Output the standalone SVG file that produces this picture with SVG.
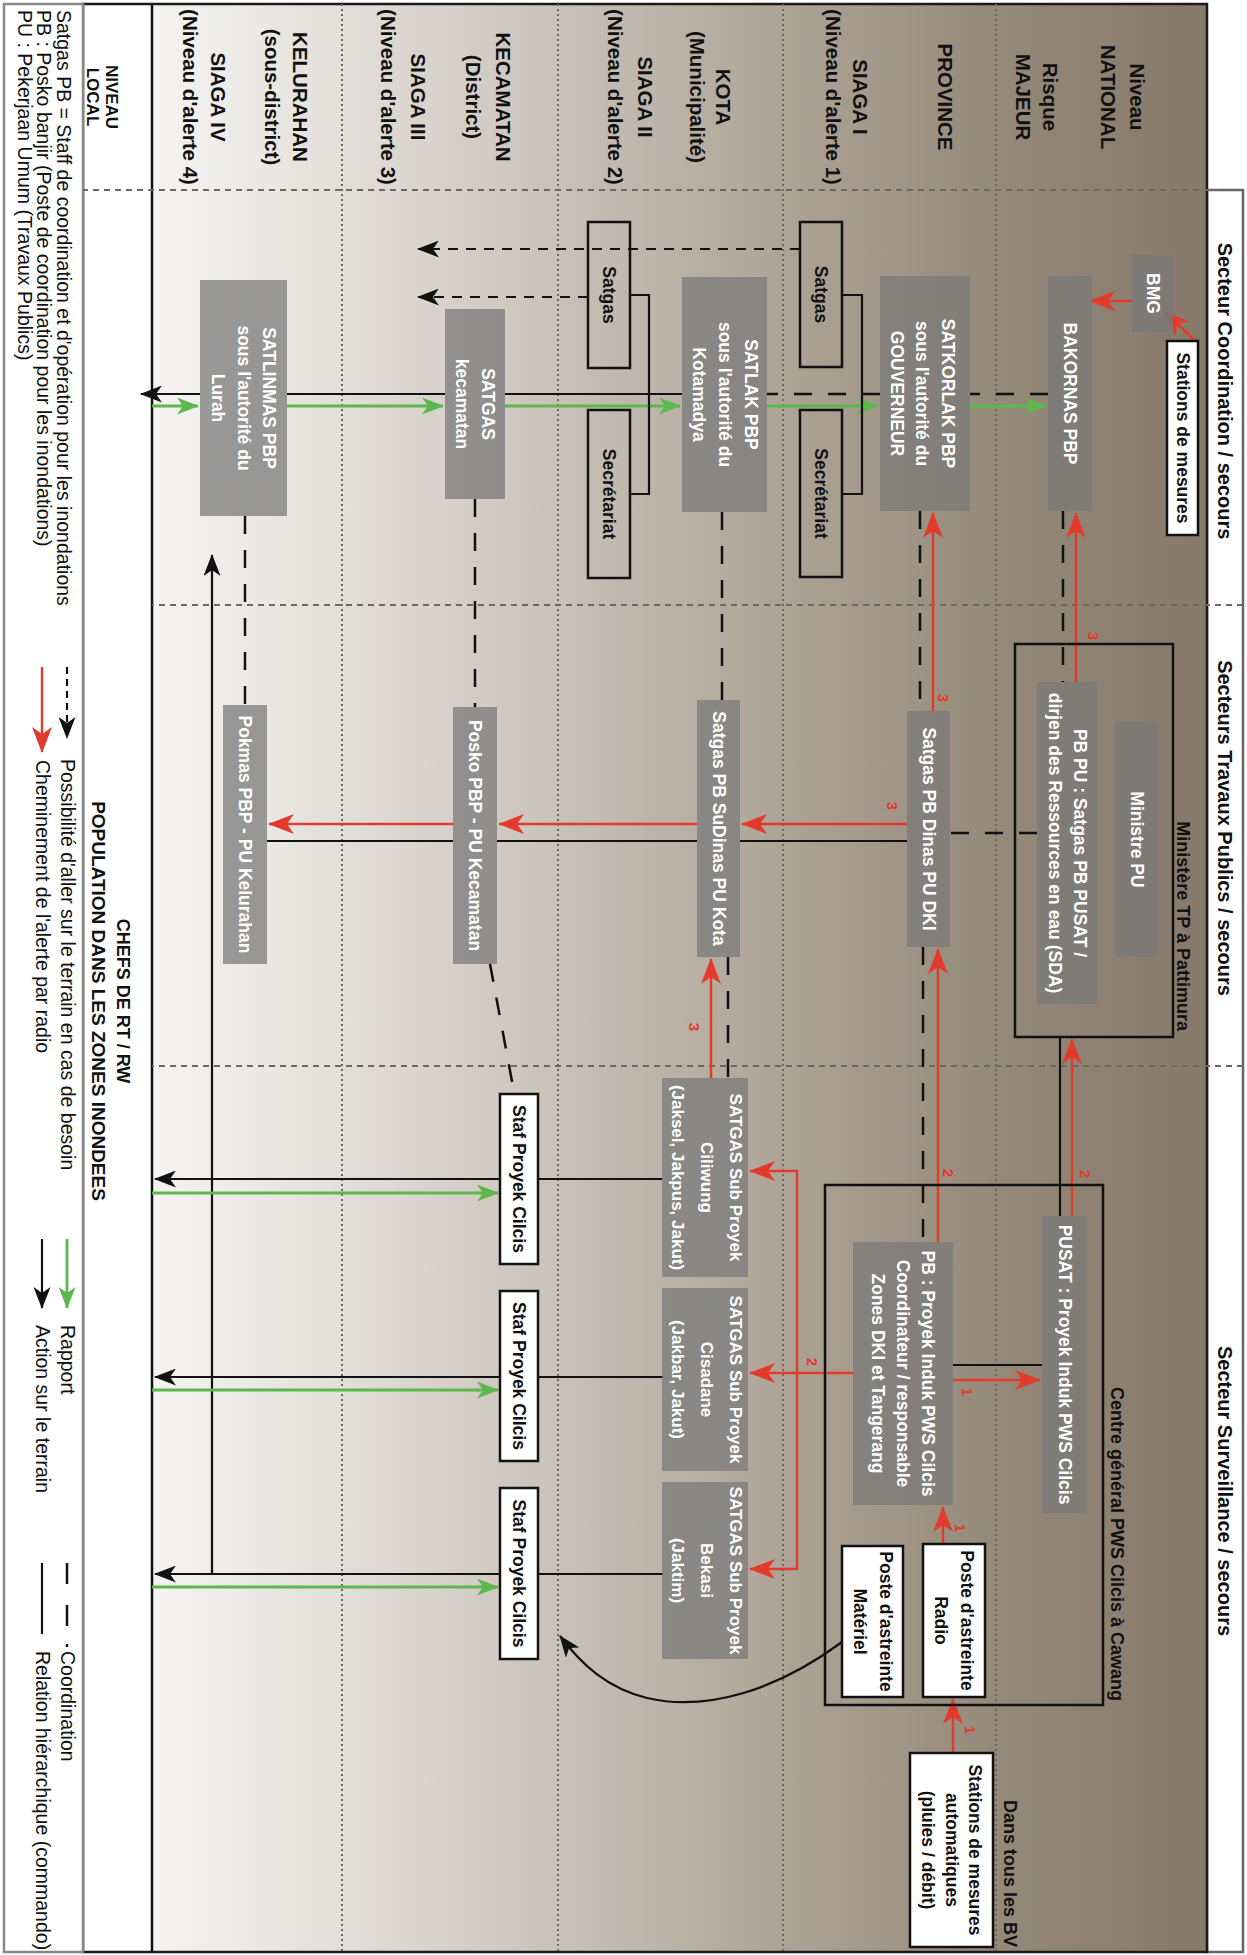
<svg xmlns="http://www.w3.org/2000/svg" width="1247" height="1955" viewBox="0 0 1247 1955">
<defs>
<linearGradient id="bg" gradientUnits="userSpaceOnUse" x1="0" y1="40" x2="0" y2="1095">
<stop offset="0" stop-color="#87796a"/>
<stop offset="0.2" stop-color="#958979"/>
<stop offset="0.436" stop-color="#b2a89b"/>
<stop offset="0.673" stop-color="#d0cac2"/>
<stop offset="0.863" stop-color="#e7e4e0"/>
<stop offset="1" stop-color="#f5f4f2"/>
</linearGradient>
<marker id="mr" markerUnits="userSpaceOnUse" markerWidth="26" markerHeight="20" refX="25" refY="10" orient="auto"><path d="M0,0 L26,10 L0,20 L7,10 z" fill="#e23b2e"/></marker>
<marker id="mg" markerUnits="userSpaceOnUse" markerWidth="22" markerHeight="17" refX="21" refY="8.5" orient="auto"><path d="M0,0 L22,8.5 L0,17 L6,8.5 z" fill="#5cb84c"/></marker>
<marker id="mk" markerUnits="userSpaceOnUse" markerWidth="22" markerHeight="17" refX="21" refY="8.5" orient="auto"><path d="M0,0 L22,8.5 L0,17 L6,8.5 z" fill="#111"/></marker>
</defs>
<style>
text{font-family:"Liberation Sans",Arial,sans-serif}
.hd{font-size:20px;font-weight:bold;text-anchor:middle;fill:#111}
.lv{font-size:20.5px;font-weight:bold;text-anchor:middle;fill:#111}
.gb{fill:#7a7a7a;fill-opacity:.74}
.gt{fill:#fff;font-size:17.5px;font-weight:bold;text-anchor:middle}
.gs{fill:#fff;font-size:17px;font-weight:bold;text-anchor:middle}
.wb{fill:#fff;stroke:#111;stroke-width:2.5}
.ob{fill:none;stroke:#111;stroke-width:2.5}
.bt{fill:#111;font-size:17.5px;font-weight:bold;text-anchor:middle}
.lab{fill:#111;font-size:18px;font-weight:bold;text-anchor:end}
.num{fill:#e23b2e;font-size:15px;font-weight:bold;text-anchor:middle}
.lg{fill:#111;font-size:19.5px}
.red{fill:none;stroke:#e23b2e;stroke-width:2.4;marker-end:url(#mr)}
.grn{fill:none;stroke:#5cb84c;stroke-width:2.8;marker-end:url(#mg)}
.blk{fill:none;stroke:#111;stroke-width:2.2}
.bka{fill:none;stroke:#111;stroke-width:2.2;marker-end:url(#mk)}
.dsh{fill:none;stroke:#111;stroke-width:2.5;stroke-dasharray:18 16}
.dar{fill:none;stroke:#111;stroke-width:2.2;stroke-dasharray:10 8;marker-end:url(#mk)}
.col{stroke:#6f6860;stroke-width:1.8;stroke-dasharray:6 5}
.row{stroke:#6f6860;stroke-width:2;stroke-dasharray:2 3}
</style>
<rect x="0" y="0" width="1247" height="1955" fill="#fff"/>
<g transform="translate(1247,0) rotate(90)">
<g id="frame">
<rect x="190" y="4" width="1762" height="36" fill="#fff" stroke="#666" stroke-width="2.5"/>
<rect x="4" y="40" width="1948" height="1055" fill="url(#bg)"/>
<rect x="4" y="1095" width="1948" height="69" fill="#fff"/>
<rect x="4" y="40" width="1948" height="1124" fill="none" stroke="#1a1a1a" stroke-width="2.5"/>
<rect x="4" y="1164" width="1948" height="79" fill="#fff" stroke="#888" stroke-width="2.5"/>
<line x1="4" y1="1095" x2="1952" y2="1095" stroke="#111" stroke-width="2.5"/>
<line class="col" x1="190" y1="4" x2="190" y2="1164"/>
<line class="col" x1="605" y1="4" x2="605" y2="1095"/>
<line class="col" x1="1066" y1="4" x2="1066" y2="1095"/>
<line class="row" x1="4" y1="251" x2="1952" y2="251"/>
<line class="row" x1="4" y1="464" x2="1952" y2="464"/>
<line class="row" x1="4" y1="689" x2="1952" y2="689"/>
<line class="row" x1="4" y1="905" x2="1952" y2="905"/>
</g>
<g id="headers">
<text class="hd" x="391" y="29">Secteur Coordination / secours</text>
<text class="hd" x="828" y="29">Secteurs Travaux Publics / secours</text>
<text class="hd" x="1491" y="29">Secteur Surveillance / secours</text>
</g>
<g id="levels">
<text class="lv" x="97" y="117">Niveau</text>
<text class="lv" x="97" y="146">NATIONAL</text>
<text class="lv" x="97" y="204">Risque</text>
<text class="lv" x="97" y="231">MAJEUR</text>
<text class="lv" x="97" y="309">PROVINCE</text>
<text class="lv" x="97" y="394">SIAGA I</text>
<text class="lv" x="97" y="421">(Niveau d'alerte 1)</text>
<text class="lv" x="97" y="531">KOTA</text>
<text class="lv" x="97" y="557">(Municipalité)</text>
<text class="lv" x="97" y="609">SIAGA II</text>
<text class="lv" x="97" y="639">(Niveau d'alerte 2)</text>
<text class="lv" x="97" y="751">KECAMATAN</text>
<text class="lv" x="97" y="781">(District)</text>
<text class="lv" x="97" y="836">SIAGA III</text>
<text class="lv" x="97" y="866">(Niveau d'alerte 3)</text>
<text class="lv" x="97" y="954">KELURAHAN</text>
<text class="lv" x="97" y="982">(sous-district)</text>
<text class="lv" x="97" y="1036">SIAGA IV</text>
<text class="lv" x="97" y="1064">(Niveau d'alerte 4)</text>
<text class="lv" x="97" y="1141" style="font-size:17px">NIVEAU</text>
<text class="lv" x="97" y="1160" style="font-size:17px">LOCAL</text>
</g>
<g id="local">
<text class="lv" x="1001" y="1130" style="font-size:18px">CHEFS DE RT / RW</text>
<text class="lv" x="1001" y="1155" style="font-size:19px">POPULATION DANS LES ZONES INONDEES</text>
</g>

<g id="connectors">
<path class="dsh" d="M394,199 V277"/>
<path class="dsh" d="M394,367 V480"/>
<path class="blk" d="M394,565 V742"/>
<path class="blk" d="M394,802 V960"/>
<path class="bka" d="M394,1047 V1106"/>
<path class="grn" d="M406,1095 V1049"/>
<path class="grn" d="M406,960 V804"/>
<path class="grn" d="M406,742 V567"/>
<path class="grn" d="M406,480 V369"/>
<path class="grn" d="M406,277 V201"/>
<path class="blk" d="M295,405 V385 H494 V405"/>
<path class="blk" d="M295,617 V598 H494 V617"/>
<path class="dar" d="M249,447 V829"/>
<path class="dar" d="M297,659 V829"/>
<path class="red" d="M301,115 V157"/>
<path class="red" d="M342,50 L312,83"/>
<path class="red" d="M682,171 H513"/>
<path class="dsh" d="M511,184 H682"/>
<path class="red" d="M711,314 H513"/>
<path class="dsh" d="M511,327 H711"/>
<path class="dsh" d="M833,210 V297"/>
<path class="blk" d="M841,340 V507"/>
<path class="blk" d="M841,550 V750"/>
<path class="blk" d="M841,794 V980"/>
<path class="red" d="M824,340 V505"/>
<path class="red" d="M824,550 V748"/>
<path class="red" d="M824,794 V978"/>
<path class="dsh" d="M512,525 H700"/>
<path class="dsh" d="M499,772 H707"/>
<path class="dsh" d="M516,1002 H705"/>
<path class="dsh" d="M957,519 H1078"/>
<path class="red" d="M1078,536 H959"/>
<path class="dsh" d="M964,757 L1092,733"/>
<path class="dsh" d="M947,324 H1242"/>
<path class="red" d="M1242,309 H949"/>
<path class="blk" d="M1216,187 H1037"/>
<path class="red" d="M1216,175 H1039"/>
<path class="blk" d="M1365,294 V205"/>
<path class="red" d="M1380,294 V207"/>
<path class="red" d="M1544,304 H1507"/>
<path class="red" d="M1753,294 H1699"/>
<path class="red" d="M1373,394 V497"/>
<path class="red" d="M1373,450 H1171 V497"/>
<path class="red" d="M1373,450 H1569 V497"/>
<path class="bka" d="M1179,585 V1092"/>
<path class="bka" d="M1377,584 V1092"/>
<path class="bka" d="M1574,584 V1092"/>
<path class="bka" d="M1574,1035 H555"/>
<path class="grn" d="M1193,1095 V749"/>
<path class="grn" d="M1390,1095 V749"/>
<path class="grn" d="M1587,1095 V749"/>
<path class="bka" d="M1642,405 C1690,470 1712,540 1698,600 C1688,640 1665,665 1636,687"/>
<text class="num" x="636" y="159">3</text>
<text class="num" x="698" y="309">3</text>
<text class="num" x="806" y="360">3</text>
<text class="num" x="1027" y="558">3</text>
<text class="num" x="1173" y="304">2</text>
<text class="num" x="1174" y="167">2</text>
<text class="num" x="1362" y="440">2</text>
<text class="num" x="1392" y="285">1</text>
<text class="num" x="1528" y="292">1</text>
<text class="num" x="1730" y="282">1</text>
</g>

<g id="bmg"><rect class="gb" x="255" y="74" width="77" height="41"/><text class="gt" x="293.5" y="100.5">BMG</text></g>
<g id="bakornas"><rect class="gb" x="276" y="155" width="235" height="44"/><text class="gt" x="393.5" y="183">BAKORNAS PBP</text></g>
<g id="stations-mesures"><rect class="wb" x="341" y="49" width="194" height="31"/><text class="bt" x="438" y="70.5">Stations de mesures</text></g>
<g id="satkorlak"><rect class="gb" x="276" y="277" width="235" height="90"/><text class="gt" x="393.5" y="305">SATKORLAK PBP</text><text class="gt" x="393.5" y="331">sous l'autorité du</text><text class="gt" x="393.5" y="356">GOUVERNEUR</text></g>
<g id="satgas-prov"><rect class="ob" x="222" y="405" width="145" height="42"/><text class="bt" x="294.5" y="432">Satgas</text></g>
<g id="secretariat-prov"><rect class="ob" x="410" y="405" width="167" height="42"/><text class="bt" x="493.5" y="432">Secrétariat</text></g>
<g id="satlak"><rect class="gb" x="277" y="480" width="235" height="85"/><text class="gt" x="394.5" y="502.5">SATLAK PBP</text><text class="gt" x="394.5" y="528.5">sous l'autorité du</text><text class="gt" x="394.5" y="554.5">Kotamadya</text></g>
<g id="satgas-kota"><rect class="ob" x="222" y="617" width="146" height="42"/><text class="bt" x="295" y="644">Satgas</text></g>
<g id="secretariat-kota"><rect class="ob" x="410" y="617" width="168" height="42"/><text class="bt" x="494" y="644">Secrétariat</text></g>
<g id="satgas-kec"><rect class="gb" x="309" y="742" width="190" height="60"/><text class="gt" x="404" y="765">SATGAS</text><text class="gt" x="404" y="791">kecamatan</text></g>
<g id="satlinmas"><rect class="gb" x="280" y="960" width="236" height="87"/><text class="gt" x="398" y="984">SATLINMAS PBP</text><text class="gt" x="398" y="1009.5">sous l'autorité du</text><text class="gt" x="398" y="1035">Lurah</text></g>

<g id="ministere"><rect class="ob" x="644" y="74" width="393" height="158"/><text class="lab" x="1031" y="70">Ministère TP à Pattimura</text></g>
<g id="ministre-pu"><rect class="gb" x="722" y="89" width="235" height="43"/><text class="gt" x="839.5" y="116.5">Ministre PU</text></g>
<g id="pbpu"><rect class="gb" x="682" y="150" width="322" height="60"/><text class="gt" x="843" y="173.5">PB PU : Satgas PB PUSAT /</text><text class="gt" x="843" y="198.5">dirjen des Ressources en eau (SDA)</text></g>
<g id="dinas"><rect class="gb" x="711" y="297" width="236" height="43"/><text class="gt" x="829" y="324.5">Satgas PB Dinas PU DKI</text></g>
<g id="sudinas"><rect class="gb" x="700" y="507" width="257" height="43"/><text class="gt" x="828.5" y="534.5">Satgas PB SuDinas PU Kota</text></g>
<g id="posko"><rect class="gb" x="707" y="750" width="257" height="44"/><text class="gt" x="835.5" y="778">Posko PBP - PU Kecamatan</text></g>
<g id="pokmas"><rect class="gb" x="705" y="980" width="259" height="44"/><text class="gt" x="834.5" y="1008">Pokmas PBP - PU Kelurahan</text></g>

<g id="centre"><rect class="ob" x="1185" y="144" width="520" height="278"/><text class="lab" x="1701" y="136">Centre général PWS Cilcis à Cawang</text></g>
<g id="pusat"><rect class="gb" x="1216" y="160" width="297" height="45"/><text class="gt" x="1364.5" y="188.5">PUSAT : Proyek Induk PWS Cilcis</text></g>
<g id="pb-induk"><rect class="gb" x="1242" y="294" width="263" height="100"/><text class="gt" x="1373.5" y="325">PB : Proyek Induk PWS Cilcis</text><text class="gt" x="1373.5" y="350">Coordinateur / responsable</text><text class="gt" x="1373.5" y="375">Zones DKI et Tangerang</text></g>
<g id="radio"><rect class="wb" x="1544" y="262" width="153" height="62"/><text class="bt" x="1620.5" y="286">Poste d'astreinte</text><text class="bt" x="1620.5" y="312">Radio</text></g>
<g id="materiel"><rect class="wb" x="1546" y="344" width="151" height="61"/><text class="bt" x="1621.5" y="367.5">Poste d'astreinte</text><text class="bt" x="1621.5" y="393.5">Matériel</text></g>
<g id="stations-auto"><rect class="wb" x="1753" y="254" width="194" height="83"/><text class="bt" x="1850" y="278">Stations de mesures</text><text class="bt" x="1850" y="301.5">automatiques</text><text class="bt" x="1850" y="325">(pluies / débit)</text><text class="lab" x="1947" y="243.5">Dans tous les BV</text></g>
<g id="ciliwung"><rect class="gb" x="1078" y="499" width="199" height="86"/><text class="gs" x="1177.5" y="517">SATGAS Sub Proyek</text><text class="gs" x="1177.5" y="546">Ciliwung</text><text class="gs" x="1177.5" y="575">(Jaksel, Jakpus, Jakut)</text></g>
<g id="cisadane"><rect class="gb" x="1288" y="499" width="183" height="86"/><text class="gs" x="1379.5" y="517">SATGAS Sub Proyek</text><text class="gs" x="1379.5" y="546">Cisadane</text><text class="gs" x="1379.5" y="575">(Jakbar, Jakut)</text></g>
<g id="bekasi"><rect class="gb" x="1482" y="499" width="177" height="86"/><text class="gs" x="1570.5" y="517">SATGAS Sub Proyek</text><text class="gs" x="1570.5" y="546">Bekasi</text><text class="gs" x="1570.5" y="575">(Jaktim)</text></g>
<g id="staf1"><rect class="wb" x="1094" y="709" width="170" height="38"/><text class="bt" x="1179" y="734">Staf Proyek Cilcis</text></g>
<g id="staf2"><rect class="wb" x="1291" y="709" width="170" height="38"/><text class="bt" x="1376" y="734">Staf Proyek Cilcis</text></g>
<g id="staf3"><rect class="wb" x="1488" y="709" width="171" height="38"/><text class="bt" x="1573.5" y="734">Staf Proyek Cilcis</text></g>

<g id="legend">
<text class="lg" x="10" y="1190.5">Satgas PB = Staff de coordination et d'opération pour les inondations</text>
<text class="lg" x="10" y="1210.5">PB : Posko banjir (Poste de coordination pour les inondations)</text>
<text class="lg" x="10" y="1229">PU : Pekerjaan Umum (Travaux Publics)</text>
<path d="M667,1180 H738" fill="none" stroke="#111" stroke-width="2.2" stroke-dasharray="7 5" marker-end="url(#mk)"/>
<text class="lg" x="759" y="1186.5">Possibilité d'aller sur le terrain en cas de besoin</text>
<path class="red" d="M667,1205 H752"/>
<text class="lg" x="760" y="1211.5">Cheminement de l'alerte par radio</text>
<path class="grn" d="M1239,1180 H1308"/>
<text class="lg" x="1325" y="1186.5">Rapport</text>
<path class="bka" d="M1239,1205 H1308"/>
<text class="lg" x="1325" y="1211.5">Action sur le terrain</text>
<path d="M1563,1180 h21 M1605,1180 h21 M1644,1180 h3" fill="none" stroke="#111" stroke-width="2.5"/>
<text class="lg" x="1651" y="1186.5">Coordination</text>
<path class="blk" d="M1563,1205 H1634"/>
<text class="lg" x="1651" y="1211.5">Relation hiérarchique (commando)</text>
</g>
</g>
</svg>
